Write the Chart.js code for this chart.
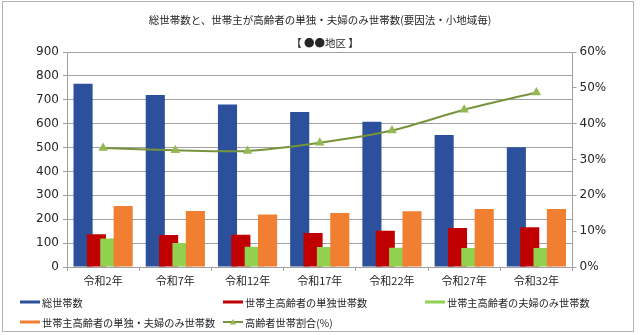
<!DOCTYPE html>
<html>
<head>
<meta charset="utf-8">
<title>総世帯数と、世帯主が高齢者の単独・夫婦のみ世帯数</title>
<script src="https://cdn.jsdelivr.net/npm/chart.js@4.4.1/dist/chart.umd.min.js"></script>
<style>
  body { margin: 0; background: #fff; }
  #wrap { position: relative; width: 640px; height: 335px; overflow: hidden; }
  #frame { position: absolute; left: 2px; top: 1px; width: 632px; height: 331px; border: 1px solid #b4b4b4; box-sizing: border-box; }
  #chart { position: absolute; left: 0; top: 0; }
  .ttl { position: absolute; left: 0; width: 640px; text-align: center; color: #262626;
         font-family: "Noto Sans CJK JP", sans-serif; font-size: 10.5px; line-height: 14px; white-space: pre; }
  #title { top: 13px; }
  #sub { top: 36px; left: 5px; }
  .lg { position: absolute; height: 14px; display: flex; align-items: center; color: #262626;
        font-family: "Noto Sans CJK JP", sans-serif; font-size: 10.2px; white-space: nowrap; }
  .lg canvas { margin-right: 2px; }
</style>
</head>
<body>
<div id="wrap">
  <div id="frame"></div>
  <canvas id="chart" width="640" height="335"></canvas>
  <div id="title" class="ttl">総世帯数と、世帯主が高齢者の単独・夫婦のみ世帯数(要因法・小地域毎)</div>
  <div id="sub" class="ttl">【 ●●地区 】</div>
  <div id="legend"></div>
</div>
<script>
// 年次
var nendo = ['令和2年', '令和7年', '令和12年', '令和17年', '令和22年', '令和27年', '令和32年'];

// 世帯数
var souSetai = [767, 720, 680, 649, 608, 553, 501];
var tandoku = [137, 134, 135, 142, 152, 163, 166];
var fuufu = [119, 100, 85, 84, 81, 80, 80];
var tandokuFuufu = [255, 234, 220, 226, 233, 243, 243];

// 高齢者世帯割合(%)
var wariai = [33.2, 32.6, 32.4, 34.7, 38.1, 43.9, 48.7];

var setaiTicks = [0, 100, 200, 300, 400, 500, 600, 700, 800, 900];
var wariaiTicks = [0, 10, 20, 30, 40, 50, 60];

var fontNum = 'DejaVu Sans, Noto Sans CJK JP, sans-serif';
var gridColor = '#a0a0a0';

// 棒は後の系列が前に重なるように順番通りに描く
const drawInOrder = {
   id: 'drawInOrder',
   beforeDatasetsDraw(chart) {
      chart.data.datasets.forEach(function (ds, i) {
         chart._drawDataset(chart.getDatasetMeta(i));
      });
      return false;
   }
};

function barSet(label, data, color) {
   return {
      type: 'bar',
      label: label,
      data: data,
      backgroundColor: color,
      borderWidth: 0,
      barPercentage: 1.43,
      categoryPercentage: 0.74,
      yAxisID: 'y'
   };
}

const ctx = document.getElementById('chart').getContext('2d');
const myChart = new Chart(ctx, {
   data: {
      labels: nendo,
      datasets: [
         barSet('総世帯数', souSetai, '#2d509c'),
         barSet('世帯主高齢者の単独世帯数', tandoku, '#c00000'),
         barSet('世帯主高齢者の夫婦のみ世帯数', fuufu, '#92d050'),
         barSet('世帯主高齢者の単独・夫婦のみ世帯数', tandokuFuufu, '#f07f32'),
         {
            type: 'line',
            label: '高齢者世帯割合(%)',
            data: wariai,
            borderColor: '#77933c',
            borderWidth: 2,
            tension: 0.3,
            pointStyle: 'triangle',
            pointRadius: 3.5,
            pointBackgroundColor: '#94b954',
            pointBorderColor: '#94b954',
            yAxisID: 'y1'
         }
      ]
   },
   options: {
      responsive: false,
      animation: false,
      layout: { padding: { top: 52, left: 0, right: 0, bottom: 0 } },
      plugins: {
         legend: { display: false },
         title: { display: false },
         tooltip: { enabled: false }
      },
      scales: {
         x: {
            offset: true,
            grid: { offset: true, drawOnChartArea: false, drawTicks: true, tickLength: 4, color: gridColor },
            border: { color: gridColor },
            ticks: { padding: 3, color: '#262626', font: { family: 'Noto Sans CJK JP, sans-serif', size: 11 } },
            afterFit: function (scale) { scale.height = 68; }
         },
         y: {
            position: 'left',
            min: 0,
            max: 900,
            afterBuildTicks: function (scale) {
               scale.ticks = setaiTicks.map(function (v) { return { value: v }; });
            },
            grid: { color: gridColor, tickLength: 4 },
            border: { color: gridColor },
            ticks: { padding: 4, color: '#262626', font: { family: fontNum, size: 12 } },
            afterFit: function (scale) { scale.width = 67; }
         },
         y1: {
            position: 'right',
            min: 0,
            max: 60,
            afterBuildTicks: function (scale) {
               scale.ticks = wariaiTicks.map(function (v) { return { value: v }; });
            },
            grid: { drawOnChartArea: false, tickLength: 4, color: gridColor },
            border: { color: gridColor },
            ticks: {
               padding: 3,
               color: '#262626',
               font: { family: fontNum, size: 12 },
               callback: function (v) { return v + '%'; }
            },
            afterFit: function (scale) { scale.width = 67.5; }
         }
      }
   },
   plugins: [drawInOrder]
});

// 凡例 (3列)
var legendPos = [[20, 295], [223, 295], [425, 295], [20, 315], [223, 315]];
var legend = document.getElementById('legend');
myChart.data.datasets.forEach(function (ds, i) {
   var item = document.createElement('div');
   item.className = 'lg';
   item.style.left = legendPos[i][0] + 'px';
   item.style.top = legendPos[i][1] + 'px';

   var mark = document.createElement('canvas');
   mark.width = 20;
   mark.height = 10;
   var m = mark.getContext('2d');
   if (ds.type === 'bar') {
      m.fillStyle = ds.backgroundColor;
      m.fillRect(0, 3.5, 20, 3);
   } else {
      m.strokeStyle = ds.borderColor;
      m.lineWidth = 2;
      m.beginPath();
      m.moveTo(0, 5);
      m.lineTo(20, 5);
      m.stroke();
      m.fillStyle = ds.pointBackgroundColor;
      m.beginPath();
      m.moveTo(10, 2);
      m.lineTo(13, 7.5);
      m.lineTo(7, 7.5);
      m.closePath();
      m.fill();
   }
   item.appendChild(mark);
   item.appendChild(document.createTextNode(ds.label));
   legend.appendChild(item);
});
</script>
</body>
</html>
